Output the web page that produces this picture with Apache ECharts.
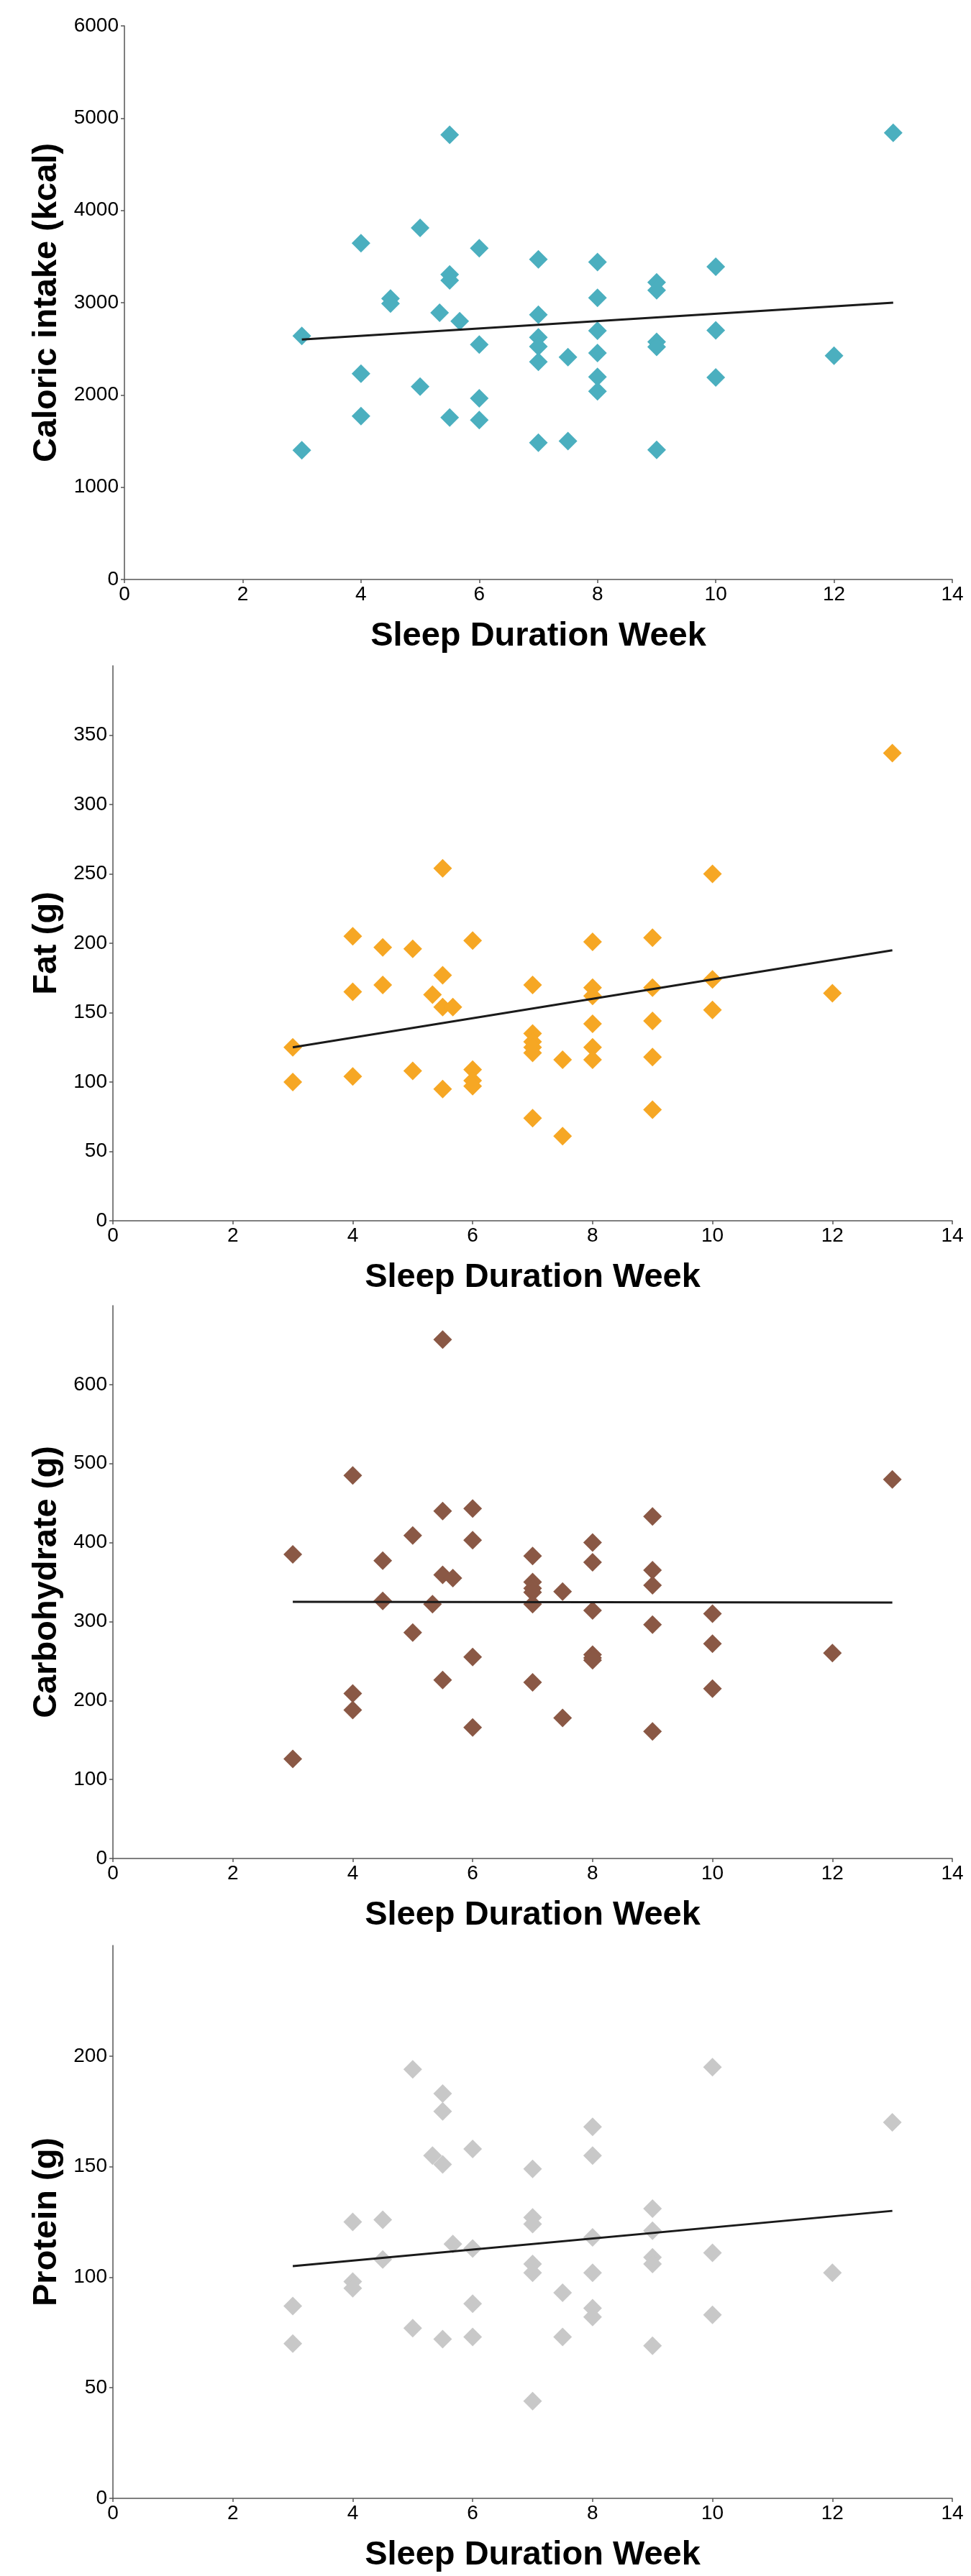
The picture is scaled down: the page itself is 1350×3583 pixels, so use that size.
<!DOCTYPE html>
<html>
<head>
<meta charset="utf-8">
<title>Sleep duration vs intake</title>
<script src="https://cdn.jsdelivr.net/npm/echarts@6/dist/echarts.min.js"></script>
<style>
  html, body { margin: 0; padding: 0; background: #fff; }
  #chart { width: 1350px; height: 3583px; }
</style>
</head>
<body>
<div id="chart"></div>
<script>
// x is shared by all four panels, values are grouped in the same order
const sleepWeek = [3, 3, 4, 4, 4, 4.5, 4.5, 5, 5, 5.33, 5.5, 5.5, 5.5, 5.5, 5.67,
  6, 6, 6, 6, 7, 7, 7, 7, 7, 7, 7.5, 7.5, 8, 8, 8, 8, 8, 8, 9, 9, 9, 9, 9,
  10, 10, 10, 12, 13]

const caloricIntake = [2640, 1400, 3645, 2230, 1770, 3045, 2990, 3810, 2090, 2890,
  4820, 3306, 3242, 1756, 2800, 3590, 2546, 1964, 1728,
  3470, 2870, 2625, 2525, 2360, 1483, 2410, 1500,
  3440, 3052, 2696, 2455, 2195, 2039, 3220, 3135, 2575, 2520, 1405,
  3390, 2700, 2190, 2425, 4840]

const fat = [125, 100, 205, 165, 104, 197, 170, 196, 108, 163,
  254, 177, 154, 95, 154, 202, 109, 101, 97,
  170, 135, 129, 125, 121, 74, 116, 61,
  201, 168, 162, 142, 125, 116, 204, 168, 144, 118, 80,
  250, 174, 152, 164, 337]

const carbohydrate = [385, 126, 485, 209, 188, 377, 326, 409, 286, 322,
  657, 440, 359, 226, 355, 443, 403, 255, 166,
  383, 350, 342, 337, 322, 223, 338, 178,
  400, 375, 314, 258, 254, 251, 433, 365, 346, 296, 161,
  310, 272, 215, 260, 480]

const protein = [87, 70, 125, 98, 95, 126, 108, 194, 77, 155,
  183, 175, 151, 72, 115, 158, 113, 88, 73,
  149, 127, 124, 106, 102, 44, 93, 73,
  168, 155, 118, 102, 86, 82, 131, 121, 109, 106, 69,
  195, 111, 83, 102, 170]

// fitted lines, read at both ends
const trendX = [3, 13]
const caloricTrend = [2600, 3000]
const fatTrend = [125, 195]
const carbohydrateTrend = [325, 324]
const proteinTrend = [105, 130]

const xTicks = [0, 2, 4, 6, 8, 10, 12, 14]
const caloricTicks = [0, 1000, 2000, 3000, 4000, 5000, 6000]
const fatTicks = [0, 50, 100, 150, 200, 250, 300, 350]
const carbohydrateTicks = [0, 100, 200, 300, 400, 500, 600]
const proteinTicks = [0, 50, 100, 150, 200]

const FONT = 'Liberation Sans, Arial, Helvetica, sans-serif'
const AXIS_COLOR = '#555'

const panels = [
  { title: 'Caloric intake (kcal)', values: caloricIntake, trend: caloricTrend, ticks: caloricTicks,
    max: 6000, interval: 1000, color: '#4BAFBF',
    grid: { left: 173, right: 26, top: 36, height: 770 }, nameGap: 84 },
  { title: 'Fat (g)', values: fat, trend: fatTrend, ticks: fatTicks,
    max: 400, interval: 50, color: '#F6A724',
    grid: { left: 157, right: 26, top: 926, height: 772 }, nameGap: 68 },
  { title: 'Carbohydrate (g)', values: carbohydrate, trend: carbohydrateTrend, ticks: carbohydrateTicks,
    max: 700, interval: 100, color: '#8A5845',
    grid: { left: 157, right: 26, top: 1816, height: 769 }, nameGap: 68 },
  { title: 'Protein (g)', values: protein, trend: proteinTrend, ticks: proteinTicks,
    max: 250, interval: 50, color: '#C8C8C8',
    grid: { left: 157, right: 26, top: 2706, height: 769 }, nameGap: 68 },
]

const axisLine = { show: true, lineStyle: { color: AXIS_COLOR, width: 1.5 } }
const axisTick = (ticks) => ({
  show: true, length: 5, customValues: ticks,
  lineStyle: { color: AXIS_COLOR, width: 1.5 },
})
const axisLabel = (ticks, margin) => ({
  customValues: ticks, margin, color: '#000', fontSize: 28, fontFamily: FONT,
  formatter: (v) => String(v),
})

const toPairs = (xs, ys) => xs.map((x, i) => [x, ys[i]])

const option = {
  animation: false,
  backgroundColor: '#fff',
  grid: panels.map((p) => p.grid),
  xAxis: panels.map((p, i) => ({
    type: 'value', gridIndex: i, min: 0, max: 14, interval: 2,
    name: 'Sleep Duration Week', nameLocation: 'middle', nameGap: 56,
    nameTextStyle: { color: '#000', fontSize: 47, fontWeight: 'bold', fontFamily: FONT },
    axisLine, axisTick: axisTick(xTicks), axisLabel: axisLabel(xTicks, 7),
    splitLine: { show: false },
  })),
  yAxis: panels.map((p, i) => ({
    type: 'value', gridIndex: i, min: 0, max: p.max, interval: p.interval,
    name: p.title, nameLocation: 'middle', nameGap: p.nameGap, nameRotate: 90,
    nameTextStyle: { color: '#000', fontSize: 47, fontWeight: 'bold', fontFamily: FONT },
    axisLine, axisTick: axisTick(p.ticks), axisLabel: axisLabel(p.ticks, 8),
    splitLine: { show: false },
  })),
  series: panels.flatMap((p, i) => [
    {
      type: 'scatter', xAxisIndex: i, yAxisIndex: i,
      symbol: 'diamond', symbolSize: 26,
      itemStyle: { color: p.color, opacity: 1 },
      data: toPairs(sleepWeek, p.values),
      z: 2,
    },
    {
      type: 'line', xAxisIndex: i, yAxisIndex: i,
      showSymbol: false, silent: true,
      lineStyle: { color: '#1a1a1a', width: 3 },
      data: toPairs(trendX, p.trend),
      z: 3,
    },
  ]),
}

const chart = echarts.init(document.getElementById('chart'), null, { renderer: 'canvas' })
chart.setOption(option)
</script>
</body>
</html>
